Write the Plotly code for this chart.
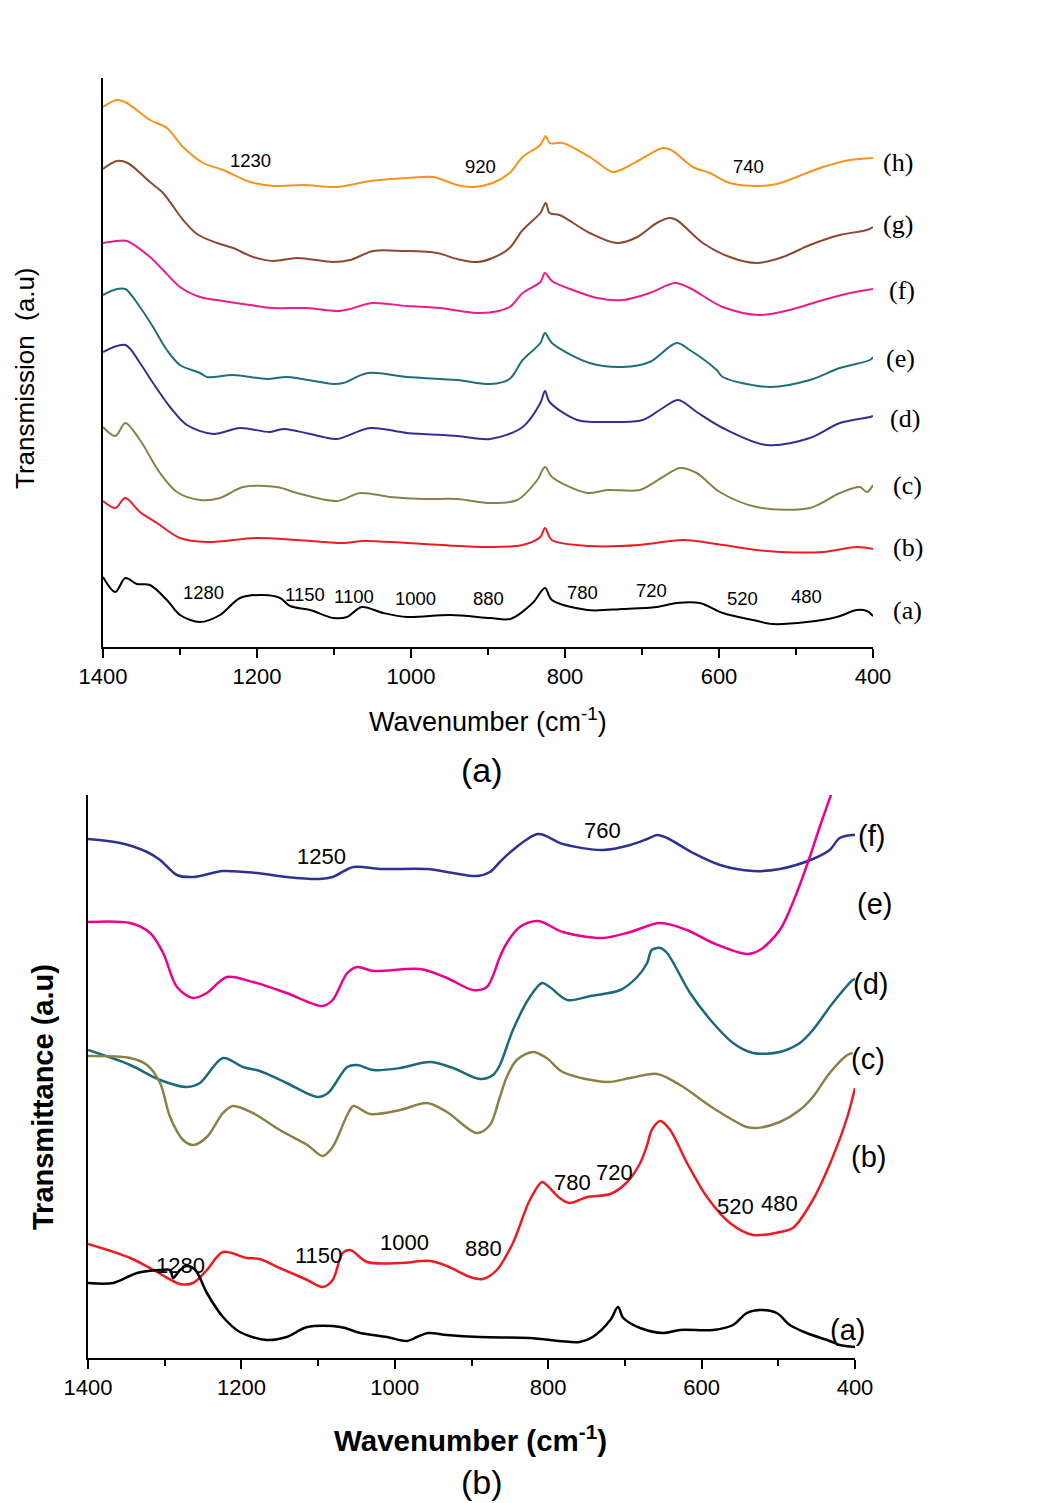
import plotly.graph_objects as go

# ---------------- Panel (a) data: wavenumber (cm-1) and transmission (a.u.) ----------------
wn_a_h = [1400,1382,1369,1339,1317,1296,1270,1244,1209,1179,1140,1096,1053,1005,971,940,919,894,872,855,832,825,820,803,768,738,725,703,673,662,634,612,586,551,525,486,465,430,400]
t_a_h  = [540,547,544,527,519,500,484,477,465,461,462,460,466,469,470,462,460,464,474,490,502,511,504,504,490,475,478,487,499,497,480,474,464,461,463,474,480,487,489]

wn_a_g = [1400,1382,1368,1339,1322,1296,1278,1252,1231,1205,1179,1148,1101,1079,1049,1010,966,940,914,894,872,855,832,825,820,807,768,733,706,681,664,655,621,586,551,517,482,443,408,400]
t_a_g  = [478,486,484,465,454,427,413,404,399,390,386,389,385,387,396,396,394,388,385,389,399,417,434,444,434,432,414,404,410,424,429,427,404,390,384,390,402,412,417,420]

wn_a_f = [1400,1382,1369,1339,1322,1300,1274,1244,1209,1179,1135,1096,1079,1051,1005,962,910,872,855,832,826,817,790,758,725,690,657,638,595,547,508,465,430,400]
t_a_f  = [404,406,406,390,377,360,350,346,342,339,339,336,338,344,341,339,334,340,354,365,374,366,357,349,347,354,364,359,340,332,337,347,354,358]

wn_a_e = [1400,1382,1371,1352,1335,1317,1300,1274,1265,1231,1187,1161,1101,1088,1056,1005,940,897,872,855,832,826,817,768,725,690,655,638,603,595,534,482,443,404,400]
t_a_e  = [352,358,358,340,320,297,282,274,270,272,268,270,263,264,274,270,267,263,268,287,304,314,304,284,280,285,304,297,277,270,260,267,279,287,290]

wn_a_d = [1400,1371,1352,1335,1313,1291,1257,1222,1183,1166,1114,1096,1053,1005,940,897,855,832,826,820,784,745,699,673,653,629,595,538,482,443,404,400]
t_a_d  = [295,302,284,264,240,222,213,219,215,218,210,208,219,214,211,208,220,244,256,245,227,225,227,239,247,235,219,202,209,224,230,231]

wn_a_c = [1400,1384,1371,1352,1326,1304,1274,1248,1218,1174,1148,1096,1066,1027,984,940,897,862,836,826,817,771,745,703,673,651,629,599,551,482,443,417,408,400]
t_a_c  = [220,211,224,207,174,155,147,149,160,160,154,146,154,150,148,148,144,147,167,180,170,154,157,157,170,179,174,155,140,139,154,160,155,162]

wn_a_b = [1400,1384,1371,1352,1330,1300,1265,1200,1148,1088,1062,1005,897,855,832,826,817,768,703,647,595,538,465,421,400]
t_a_b  = [146,139,149,135,124,109,105,109,107,104,106,104,100,102,110,119,107,101,102,107,102,96,95,100,98]

wn_a_a = [1400,1384,1371,1356,1339,1317,1300,1274,1248,1222,1192,1170,1157,1131,1101,1083,1064,1036,1005,949,897,871,842,826,817,771,725,681,655,625,595,556,530,486,447,421,408,400]
t_a_a  = [70,55,69,63,62,47,32,25,32,49,52,49,41,37,29,30,40,34,30,32,29,28,44,59,47,37,38,40,44,44,34,27,23,25,30,37,36,31]

# ---------------- Panel (b) data ----------------
wn_b_f = [1400,1358,1323,1306,1284,1263,1224,1180,1141,1098,1081,1054,1019,958,924,893,876,863,846,813,781,729,693,671,658,645,611,576,533,498,455,433,420,403,400]
t_b_f  = [519,515,506,498,483,481,487,485,481,479,481,491,489,489,485,482,486,496,508,524,514,508,513,519,523,520,505,493,487,489,499,508,520,523,523]

wn_b_e = [1400,1345,1319,1302,1284,1263,1245,1219,1185,1141,1094,1081,1062,1049,1028,967,932,898,880,863,854,837,813,781,729,693,654,619,585,541,524,498,476,459,446,429,410]
t_b_e  = [436,435,425,405,371,360,365,381,376,365,352,358,385,391,387,389,380,368,371,401,415,431,437,426,420,426,435,428,415,404,408,428,465,501,531,568,608]

wn_b_d = [1400,1345,1306,1271,1254,1224,1198,1176,1141,1101,1087,1062,1049,1028,993,954,924,889,872,863,846,824,808,798,775,745,706,684,671,665,654,645,615,585,559,533,498,472,455,429,403,400]
t_b_d  = [308,293,278,271,275,300,291,287,275,261,265,291,293,288,290,296,290,279,283,293,328,361,375,371,358,362,368,381,395,408,410,405,365,335,315,305,306,315,328,355,378,379]

wn_b_c = [1400,1345,1323,1306,1293,1276,1263,1245,1224,1211,1185,1150,1114,1094,1081,1062,1054,1032,993,958,932,893,876,863,854,841,820,802,781,723,693,658,628,585,541,528,498,472,455,433,410,403]
t_b_c  = [302,300,293,275,241,218,213,221,245,252,245,228,213,202,211,243,252,244,248,255,246,225,233,261,281,298,306,300,286,276,280,284,273,250,231,230,236,248,261,285,303,305]

wn_b_b = [1400,1345,1310,1280,1263,1245,1224,1193,1176,1150,1114,1094,1081,1068,1058,1036,993,954,932,902,885,867,846,824,808,802,785,772,749,719,697,680,671,665,654,641,619,593,563,533,498,481,455,429,410,400]
t_b_b  = [114,100,86,74,75,88,106,100,99,90,78,71,78,105,108,96,95,97,92,81,79,88,115,158,176,173,160,155,161,164,176,195,213,228,237,228,195,161,135,123,126,130,158,201,241,270]

wn_b_a = [1400,1367,1336,1306,1293,1289,1280,1271,1260,1245,1224,1202,1167,1141,1114,1071,1045,1010,984,971,957,932,889,824,759,742,719,709,702,680,650,628,585,559,541,524,502,485,463,433,420,400]
t_b_a  = [75,75,85,88,88,80,88,92,88,65,41,26,18,21,31,31,25,21,17,21,25,23,21,20,16,21,38,51,40,30,25,28,28,33,45,48,45,33,25,17,13,11]

# ---------------- Labels ----------------
top_names = ["(h)", "(g)", "(f)", "(e)", "(d)", "(c)", "(b)", "(a)"]
top_colors = ["#F7941E", "#8B4A30", "#EC1C8E", "#1F6E7B", "#2E3192", "#8A8148", "#ED1C24", "#000000"]
top_series = [(wn_a_h, t_a_h), (wn_a_g, t_a_g), (wn_a_f, t_a_f), (wn_a_e, t_a_e),
              (wn_a_d, t_a_d), (wn_a_c, t_a_c), (wn_a_b, t_a_b), (wn_a_a, t_a_a)]
# label x given as fraction of the x-axis domain (right of the 400 cm-1 end), y in data units
top_label_pos = [(1.032, 485), (1.032, 423), (1.038, 357), (1.036, 289), (1.041, 229), (1.045, 162), (1.045, 100), (1.045, 37)]
top_peaks = ["1230", "920", "740", "1280", "1150", "1100", "1000", "880", "780", "720", "520", "480"]
top_peak_pos = [(1209, 487), (910, 481), (562, 481), (1269, 55), (1138, 53), (1074, 51), (994, 49),
                (900, 49), (777, 55), (688, 57), (569, 49), (487, 51)]

bot_names = ["(f)", "(e)", "(d)", "(c)", "(b)", "(a)"]
bot_colors = ["#2E3192", "#EC008C", "#1B6A7C", "#8B8147", "#ED1C24", "#000000"]
bot_series = [(wn_b_f, t_b_f), (wn_b_e, t_b_e), (wn_b_d, t_b_d), (wn_b_c, t_b_c), (wn_b_b, t_b_b), (wn_b_a, t_b_a)]
bot_label_pos = [(1.022, 522), (1.025, 454), (1.020, 374), (1.017, 299), (1.018, 201), (0.990, 28)]
bot_peaks = ["1250", "760", "1280", "1150", "1000", "880", "780", "720", "520", "480"]
bot_peak_pos = [(1096, 502), (729, 528), (1280, 93), (1100, 103), (988, 116), (885, 110),
                (768, 176), (714, 186), (556, 152), (498, 155)]

xticks = [1400, 1200, 1000, 800, 600, 400]

W, H = 1045, 1503
fig = go.Figure()

for (x, y), c, n in zip(top_series, top_colors, top_names):
    fig.add_trace(go.Scatter(x=x, y=y, mode="lines", name=n, xaxis="x", yaxis="y",
                             line=dict(color=c, width=2, shape="spline", smoothing=0.9)))
for (x, y), c, n in zip(bot_series, bot_colors, bot_names):
    fig.add_trace(go.Scatter(x=x, y=y, mode="lines", name=n, xaxis="x2", yaxis="y2",
                             line=dict(color=c, width=2.5, shape="spline", smoothing=0.9)))

tickfont = dict(family="Liberation Sans Narrow, Arial Narrow, Arial, sans-serif", size=22, color="#000")
common_x = dict(range=[1400, 400], autorange=False, showline=True, linecolor="#000", linewidth=2,
                ticks="outside", ticklen=9, tickwidth=2, tickcolor="#000", tickvals=xticks,
                ticktext=[str(v) for v in xticks], showgrid=False, zeroline=False, tickfont=tickfont,
                automargin=False,
                minor=dict(tickvals=[1300, 1100, 900, 700, 500], ticks="outside", ticklen=6, tickwidth=2, tickcolor="#000"))
common_y = dict(showline=True, linecolor="#000", linewidth=2, showticklabels=False, ticks="",
                showgrid=False, zeroline=False, autorange=False, automargin=False)

fig.update_layout(
    width=W, height=H, margin=dict(l=0, r=0, t=0, b=0, autoexpand=False),
    paper_bgcolor="white", plot_bgcolor="white", showlegend=False,
    xaxis=dict(domain=[103/W, 873/W], anchor="y", **common_x),
    yaxis=dict(domain=[1-647/H, 1-78/H], anchor="x", range=[0, 569], **common_y),
    xaxis2=dict(domain=[88/W, 855/W], anchor="y2", **common_x),
    yaxis2=dict(domain=[1-1358/H, 1-795/H], anchor="x2", range=[0, 563], **common_y),
)

ann = []
C = dict(xanchor="center", yanchor="middle", showarrow=False)
for t, (x, y) in zip(top_names, top_label_pos):
    ann.append(dict(x=x, y=y, xref="x domain", yref="y", text=t, **C,
                    font=dict(family="Liberation Serif, Times New Roman, serif", size=26, color="#000")))
for t, (x, y) in zip(top_peaks, top_peak_pos):
    ann.append(dict(x=x, y=y, xref="x", yref="y", text=t, **C,
                    font=dict(family="Liberation Sans, Arial, sans-serif", size=18.5, color="#000")))
for t, (x, y) in zip(bot_names, bot_label_pos):
    ann.append(dict(x=x, y=y, xref="x2 domain", yref="y2", text=t, **C,
                    font=dict(family="Liberation Sans, Arial, sans-serif", size=29, color="#000")))
for t, (x, y) in zip(bot_peaks, bot_peak_pos):
    ann.append(dict(x=x, y=y, xref="x2", yref="y2", text=t, **C,
                    font=dict(family="Liberation Sans, Arial, sans-serif", size=22, color="#000")))

narrow = "Liberation Sans Narrow, Arial Narrow, Arial, sans-serif"
ann += [
    dict(x=488/W, y=1-720/H, xref="paper", yref="paper", text="Wavenumber (cm<sup>-1</sup>)", **C,
         font=dict(family=narrow, size=27, color="#000")),
    dict(x=482/W, y=1-770/H, xref="paper", yref="paper", text="(a)", **C,
         font=dict(family=narrow, size=34, color="#000")),
    dict(x=25/W, y=1-378/H, xref="paper", yref="paper", text="Transmission  (a.u)", textangle=-90, **C,
         font=dict(family="Liberation Sans, Arial, sans-serif", size=26, color="#000")),
    dict(x=470/W, y=1-1438/H, xref="paper", yref="paper", text="<b>Wavenumber (cm<sup>-1</sup>)</b>", **C,
         font=dict(family=narrow, size=29.5, color="#000")),
    dict(x=482/W, y=1-1482/H, xref="paper", yref="paper", text="(b)", **C,
         font=dict(family=narrow, size=34, color="#000")),
    dict(x=43/W, y=1-1097/H, xref="paper", yref="paper", text="<b>Transmittance (a.u)</b>", textangle=-90, **C,
         font=dict(family="Liberation Sans, Arial, sans-serif", size=29, color="#000")),
]
fig.update_layout(annotations=ann)

fig.write_html("out.html")
